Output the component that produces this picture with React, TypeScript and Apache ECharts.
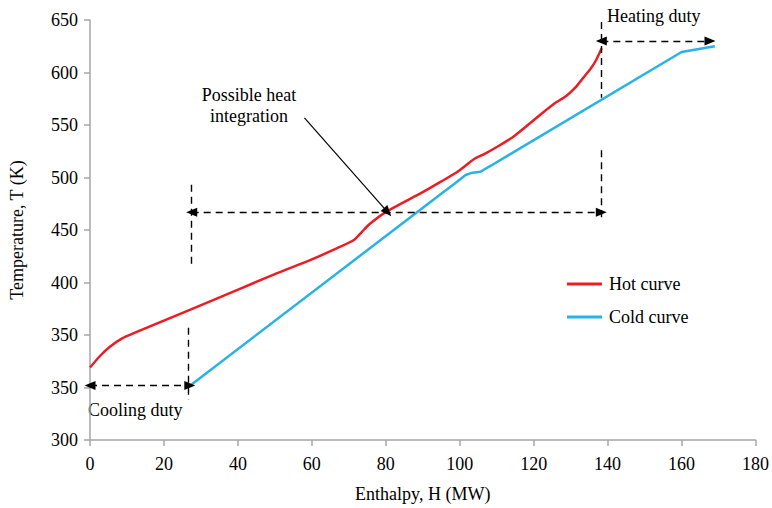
import React, { useEffect, useRef } from "react";
import * as echarts from "echarts";

// Y axis runs in evenly spaced steps; the reference prints these labels on its ticks
const Y_TICK_LABELS = ["300", "350", "350", "400", "450", "500", "550", "600", "650"];
const X_TICKS_MAX = 180;

// Hot composite curve (H in MW, T in axis units)
const HOT_H = [0, 2.7, 5.3, 8.8, 12, 27, 39.9, 50, 60, 67, 71.4, 73.5, 75.4, 80, 90, 94.9, 99.4, 103.9, 106.5, 110.5, 114.5, 118.1, 121.7, 125.7, 128.8, 131.5, 133.3, 135.5, 136.9, 138.4];
const HOT_T = [369, 380, 388.6, 397, 402, 424, 443, 458, 472, 483, 490.5, 498, 505, 517, 536, 546, 555.5, 567.6, 572.1, 580, 588.9, 599, 609.5, 620.7, 627.6, 636.5, 644.5, 654, 661.9, 673];

// Cold composite curve
const COLD_H = [27.3, 94.9, 98.5, 101.6, 103.4, 105.6, 108.3, 160, 169];
const COLD_T = [352.4, 534.3, 543.8, 552.4, 554.6, 555.5, 561, 669.5, 675];

// Annotation segments: [H1, T1, H2, T2, startArrow, endArrow, dashed]
const ANNOTATIONS: [number, number, number, number, boolean, boolean, boolean][] = [
  [0, 352, 27, 352, true, true, true],          // cooling duty
  [26.7, 407, 26.7, 338, false, false, true],
  [27.3, 543, 27.3, 467, false, false, true],
  [27.5, 517, 138.3, 517, true, true, true],     // heat integration span
  [138.3, 576, 138.3, 511, false, false, true],
  [138.3, 698, 138.3, 626, false, false, true],
  [138.3, 680, 167.7, 680, true, true, true],    // heating duty
  [58, 606.7, 80.5, 517, false, true, false],    // pointer
];

const FONT = "Liberation Serif";
const FS = 18;

export default function App() {
  const ref = useRef<HTMLDivElement>(null);
  useEffect(() => {
    if (!ref.current) return;
    const chart = echarts.init(ref.current, undefined, { renderer: "svg" });
    const hot = HOT_H.map((h, i) => [h, HOT_T[i]]);
    const cold = COLD_H.map((h, i) => [h, COLD_T[i]]);
    const markData = ANNOTATIONS.map(([h1, t1, h2, t2, sa, ea, dashed]) => [
      { coord: [h1, t1], symbol: sa ? "triangle" : "none", lineStyle: { type: dashed ? [7, 5] : "solid", width: dashed ? 1.4 : 1.2, color: "#000" } },
      { coord: [h2, t2], symbol: ea ? "triangle" : "none" },
    ]);
    const txt = { fontFamily: FONT, fontSize: FS, color: "#000" };
    chart.setOption({
      animation: false,
      backgroundColor: "#fff",
      textStyle: { fontFamily: FONT },
      grid: { left: 85, right: 14, top: 20, bottom: 68 },
      legend: {
        orient: "vertical",
        left: 562,
        top: 270,
        itemWidth: 35,
        itemHeight: 3,
        itemGap: 15,
        icon: "rect",
        textStyle: { ...txt, padding: [0, 0, 0, 2] },
        data: ["Hot curve", "Cold curve"],
      },
      xAxis: {
        type: "value",
        min: 0,
        max: X_TICKS_MAX,
        interval: 20,
        name: "Enthalpy, H (MW)",
        nameLocation: "middle",
        nameGap: 45,
        nameTextStyle: txt,
        axisLine: { show: true, lineStyle: { color: "#a6a6a6", width: 1.5 } },
        axisTick: { show: true, length: 6, lineStyle: { color: "#a6a6a6", width: 1.5 } },
        axisLabel: { ...txt, margin: 15 },
        splitLine: { show: false },
      },
      yAxis: {
        type: "value",
        min: 300,
        max: 700,
        interval: 50,
        name: "Temperature, T (K)",
        nameLocation: "middle",
        nameGap: 64,
        nameTextStyle: txt,
        axisLine: { show: true, lineStyle: { color: "#a6a6a6", width: 1.5 } },
        axisTick: { show: true, length: 6, lineStyle: { color: "#a6a6a6", width: 1.5 } },
        axisLabel: {
          ...txt,
          margin: 12,
          formatter: (v: number) => Y_TICK_LABELS[Math.round((v - 300) / 50)] ?? "",
        },
        splitLine: { show: false },
      },
      graphic: [
        { type: "text", x: 249, y: 84, style: { text: "Possible heat\nintegration", fontFamily: FONT, fontSize: FS, fill: "#000", align: "center", lineHeight: 21 } },
        { type: "text", x: 607, y: 7, style: { text: "Heating duty", fontFamily: FONT, fontSize: FS, fill: "#000" } },
        { type: "text", x: 88, y: 401, style: { text: "Cooling duty", fontFamily: FONT, fontSize: FS, fill: "#000" } },
      ],
      series: [
        {
          name: "Hot curve",
          type: "line",
          data: hot,
          showSymbol: false,
          smooth: 0.2,
          color: "#ec1c24",
          lineStyle: { color: "#ec1c24", width: 2.5 },
          z: 3,
        },
        {
          name: "Cold curve",
          type: "line",
          data: cold,
          showSymbol: false,
          color: "#29b2e6",
          lineStyle: { color: "#29b2e6", width: 2.5 },
          z: 3,
          markLine: {
            silent: true,
            symbolSize: [9, 11],
            label: { show: false },
            emphasis: { disabled: true },
            itemStyle: { color: "#000" },
            data: markData,
            z: 5,
          },
        },
      ],
    });
    return () => chart.dispose();
  }, []);
  return <div ref={ref} style={{ position: "fixed", left: 0, top: 0, width: 772, height: 508 }} />;
}
